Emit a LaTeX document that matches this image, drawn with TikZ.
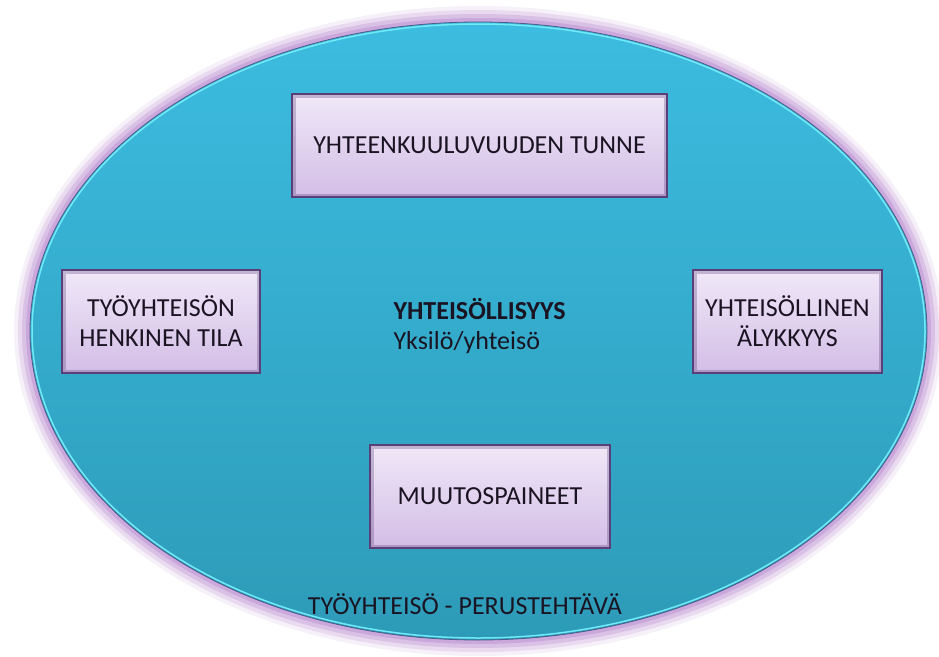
\documentclass[tikz,border=0pt]{standalone}
\usepackage{fontspec}
\setmainfont{Carlito}
\usepackage{tikz}

\definecolor{ovaltop}{HTML}{3CBCE0}
\definecolor{ovalbot}{HTML}{2D9BB8}
\definecolor{glowpurple}{HTML}{C298D5}
\definecolor{rimcyan}{HTML}{6FEAF6}
\definecolor{boxtop}{HTML}{F0E8F8}
\definecolor{boxbot}{HTML}{D3BDE6}
\definecolor{boxedge}{HTML}{5B3F78}
\definecolor{inktext}{HTML}{1A1422}

\tikzset{
  theme/.style={draw=boxedge, line width=1.6pt, top color=boxtop, bottom color=boxbot,
    inner sep=0pt, minimum height=103pt, align=center, text=inktext,
    font=\fontsize{26}{30}\selectfont,
    path picture={\draw [boxedge, opacity=0.3, line width=7pt]
      (path picture bounding box.south west) rectangle (path picture bounding box.north east);}},
  label/.style={text=inktext, font=\fontsize{26}{30}\selectfont}
}

\begin{document}
\begin{tikzpicture}[x=1pt,y=-1pt]
  \useasboundingbox (0,0) rectangle (939,656);
  \foreach \w/\o in {32/0.15,24/0.25,16/0.4,8/0.6} {
    \draw [glowpurple, line width=\w pt, opacity=\o] (478.5,331) ellipse [x radius=448.5, y radius=309];
  }
  \shade [top color=ovaltop, bottom color=ovalbot] (478.5,331) ellipse [x radius=448.5, y radius=309];
  \draw [rimcyan, line width=1.5pt] (478.5,331) ellipse [x radius=446.5, y radius=307];
  \draw [boxedge!70!ovalbot, line width=0.8pt] (478.5,331) ellipse [x radius=448.5, y radius=309];
  \node [theme, minimum width=375pt] at (479.5,145.5) (belong) {YHTEENKUULUVUUDEN TUNNE};
  \node [theme, minimum width=198pt] at (161,321.5) (spirit) {TYÖYHTEISÖN\\HENKINEN TILA};
  \node [theme, minimum width=189pt] at (787.5,321.5) (smart) {YHTEISÖLLINEN\\ÄLYKKYYS};
  \node [theme, minimum width=240pt] at (490,496.5) (change) {MUUTOSPAINEET};
  \node [label, anchor=west, align=left] at (390,326) (core) {\textbf{YHTEISÖLLISYYS}\\Yksilö/yhteisö};
  \node [label] at (465,604) (task) {TYÖYHTEISÖ - PERUSTEHTÄVÄ};
\end{tikzpicture}
\end{document}
